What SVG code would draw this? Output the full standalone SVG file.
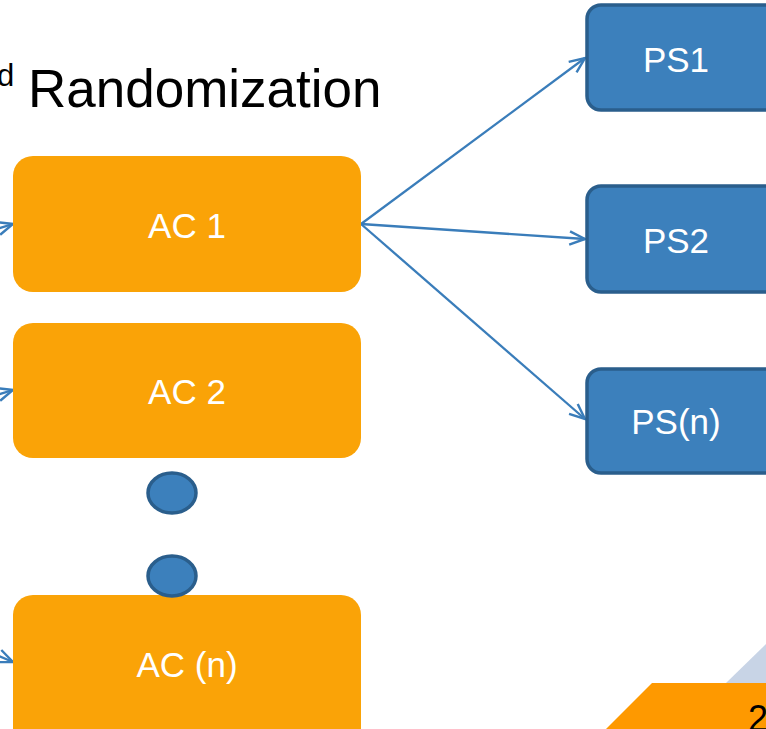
<svg xmlns="http://www.w3.org/2000/svg" width="766" height="729" viewBox="0 0 766 729">
<defs>
<style>
.ac{fill:#FAA307;}
.ps{fill:#3C80BC;stroke:#2A5E8C;stroke-width:3.5;}
.dot{fill:#3C80BC;stroke:#2A5E8C;stroke-width:3.5;}
.lbl{font-family:"Liberation Sans",Arial,sans-serif;font-size:35px;fill:#FFFFFF;text-anchor:middle;}
.conn{stroke:#3A7DBA;stroke-width:2.3;fill:none;marker-end:url(#arr);}
</style>
<marker id="arr" viewBox="0 0 20 20" refX="18" refY="10" markerWidth="22" markerHeight="22" markerUnits="userSpaceOnUse" orient="auto">
<path d="M4,4 L18,10 L4,16" fill="none" stroke="#3A7DBA" stroke-width="2.2"/>
</marker>
</defs>
<rect width="766" height="729" fill="#FFFFFF"/>
<g id="title">
<text x="-3" y="86" font-family="Liberation Sans,Arial,sans-serif" font-size="31" fill="#000">d</text>
<text x="28" y="107" font-family="Liberation Sans,Arial,sans-serif" font-size="53" fill="#000">Randomization</text>
</g>
<g id="footer">
<polygon points="726,683 766,644 766,683" fill="#C8D4E6"/>
<polygon points="606,729 652,683 766,683 766,729" fill="#FE9900"/>
<text x="748" y="731" font-family="Liberation Sans,Arial,sans-serif" font-size="36" fill="#000">2</text>
</g>
<g id="connectors">
<line class="conn" x1="361" y1="224" x2="585" y2="58"/>
<line class="conn" x1="361" y1="224" x2="585" y2="239"/>
<line class="conn" x1="361" y1="224" x2="585" y2="419"/>
<line class="conn" x1="-40" y1="240" x2="13" y2="224"/>
<line class="conn" x1="-40" y1="406" x2="13" y2="390"/>
<line class="conn" x1="-40" y1="640" x2="13" y2="662"/>
</g>
<g id="ac1"><rect class="ac" x="13" y="156" width="348" height="136" rx="20"/><text class="lbl" x="187" y="238">AC 1</text></g>
<g id="ac2"><rect class="ac" x="13" y="323" width="348" height="135" rx="20"/><text class="lbl" x="187" y="404">AC 2</text></g>
<g id="acn"><rect class="ac" x="13" y="595" width="348" height="160" rx="20"/><text class="lbl" x="187" y="677">AC (n)</text></g>
<g id="dot1"><ellipse class="dot" cx="172" cy="493" rx="24" ry="20"/></g>
<g id="dot2"><ellipse class="dot" cx="172" cy="576" rx="24" ry="20"/></g>
<g id="ps1"><rect class="ps" x="587" y="5" width="200" height="105" rx="14"/><text class="lbl" x="676" y="72">PS1</text></g>
<g id="ps2"><rect class="ps" x="587" y="186" width="200" height="106" rx="14"/><text class="lbl" x="676" y="253">PS2</text></g>
<g id="psn"><rect class="ps" x="587" y="369" width="200" height="104" rx="14"/><text class="lbl" x="676" y="434">PS(n)</text></g>
</svg>
